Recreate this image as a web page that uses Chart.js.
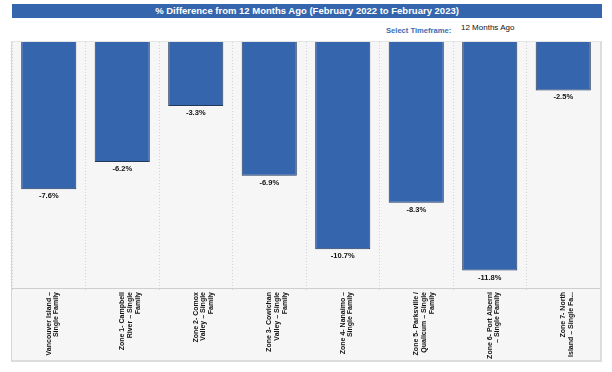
<!DOCTYPE html>
<html>
<head>
<meta charset="utf-8">
<script src="https://cdn.jsdelivr.net/npm/chart.js@4/dist/chart.umd.min.js"></script>
<style>
  body { margin: 0; background: #fff; font-family: "Liberation Sans", Arial, sans-serif; }
  #page { position: relative; width: 612px; height: 372px; }
  #banner {
    position: absolute; left: 12px; top: 4px; width: 590px; height: 14px;
    background: #3566ad; color: #fff; font-weight: bold; font-size: 9.5px;
    line-height: 14px; text-align: center;
  }
  #selLabel { position: absolute; left: 386px; top: 26px; font-size: 7.6px; font-weight: bold; color: #3a6db3; }
  #selValue { position: absolute; left: 461px; top: 23px; font-size: 8px; color: #111; }
  #box {
    position: absolute; left: 11px; top: 41px; width: 588px; height: 318px;
    background: #f6f6f6; border-left: 1px solid #d6d6d6; border-top: 1px solid #e6e6e6;
    border-right: 2px solid #dcdcdc; border-bottom: 2px solid #dcdcdc;
  }
</style>
</head>
<body>
<div id="page">
  <div id="banner">% Difference from 12 Months Ago (February 2022 to February 2023)</div>
  <div id="selLabel">Select Timeframe:</div>
  <div id="selValue">12 Months Ago</div>
  <div id="box"><canvas id="myBarChart" width="588" height="318"></canvas></div>
</div>
<script>
// category labels, split into lines the way the original wraps them
const categories = [
  ["Vancouver Island –", "Single Family"],
  ["Zone 1- Campbell", "River – Single", "Family"],
  ["Zone 2- Comox", "Valley – Single", "Family"],
  ["Zone 3- Cowichan", "Valley – Single", "Family"],
  ["Zone 4- Nanaimo –", "Single Family"],
  ["Zone 5- Parksville /", "Qualicum – Single", "Family"],
  ["Zone 6- Port Alberni", "– Single Family"],
  ["Zone 7- North", "Island – Single Fa..."],
];
const pctChange = [-7.6, -6.2, -3.3, -6.9, -10.7, -8.3, -11.8, -2.5];
const yMin = -12.7;
const yMax = 0;

// value labels under each bar end
const valueLabels = {
  id: "valueLabels",
  afterDatasetsDraw(chart) {
    const ctx = chart.ctx;
    const meta = chart.getDatasetMeta(0);
    ctx.save();
    ctx.font = "bold 7.5px 'Liberation Sans', Arial, sans-serif";
    ctx.fillStyle = "#111";
    ctx.textAlign = "center";
    ctx.textBaseline = "middle";
    meta.data.forEach((bar, i) => {
      ctx.fillText(pctChange[i].toFixed(1) + "%", bar.x, bar.y + 7);
    });
    ctx.restore();
  },
};

new Chart("myBarChart", {
  type: "bar",
  data: {
    labels: categories,
    datasets: [
      {
        label: "% Difference",
        data: pctChange,
        backgroundColor: "#3566ad",
        borderColor: "#22375a",
        borderWidth: 1,
        categoryPercentage: 1,
        barPercentage: 0.75,
      },
    ],
  },
  plugins: [valueLabels],
  options: {
    animation: false,
    responsive: false,
    layout: { padding: 0 },
    plugins: {
      legend: { display: false },
      tooltip: { enabled: false },
    },
    scales: {
      x: {
        afterFit: function (scale) {
          scale.height = 72;
        },
        grid: {
          color: "#d2d2d2",
          tickLength: 2,
          tickColor: "#d2d2d2",
        },
        border: { color: "#cfcfcf", width: 1, dash: [1, 2] },
        ticks: {
          minRotation: 90,
          maxRotation: 90,
          autoSkip: false,
          padding: 2,
          color: "#111",
          font: { family: "'Liberation Sans', Arial, sans-serif", size: 7, weight: "bold", lineHeight: 1.1 },
        },
      },
      y: {
        display: false,
        min: yMin,
        max: yMax,
      },
    },
  },
});
</script>
</body>
</html>
